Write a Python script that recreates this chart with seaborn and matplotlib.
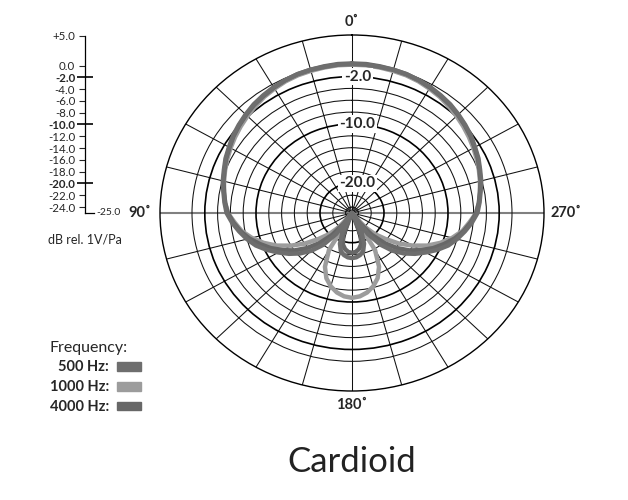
import numpy as np
import pandas as pd
import seaborn as sns
import matplotlib.pyplot as plt
from matplotlib.patches import Patch

# polar response, read from the left half of the chart (0 deg = front/top),
# the right half is the mirror image
angles = list(range(0, 181, 5))

db_500 = [0.1, 0.1, 0.0, 0.0, -0.1, -0.3, -0.5, -0.8, -1.1, -1.5,
          -1.9, -2.3, -2.8, -3.2, -3.7, -4.1, -4.6, -5.0, -5.4, -6.2,
          -7.1, -8.0, -9.0, -10.3, -11.7, -13.0, -14.4, -16.0, -18.0, -20.7,
          -25.0, -21.5, -19.5, -18.3, -17.8, -17.5, -17.4]

db_1000 = [0.0, 0.0, -0.1, -0.2, -0.3, -0.5, -0.8, -1.1, -1.5, -1.9,
           -2.3, -2.7, -3.1, -3.5, -3.9, -4.3, -4.7, -5.1, -5.6, -6.6,
           -7.5, -8.8, -10.3, -12.0, -14.0, -16.0, -18.2, -20.0, -22.0, -25.0,
           -17.8, -15.0, -13.3, -12.2, -11.4, -10.9, -10.7]

db_4000 = [0.2, 0.2, 0.1, 0.0, -0.1, -0.3, -0.6, -0.9, -1.2, -1.6,
           -2.0, -2.4, -2.9, -3.3, -3.8, -4.2, -4.7, -5.1, -5.6, -6.4,
           -7.3, -8.4, -9.7, -11.0, -12.5, -14.0, -15.8, -17.8, -20.2, -23.0,
           -25.0, -25.0, -21.0, -19.5, -18.8, -18.4, -18.3]

freqs = ["500 Hz", "1000 Hz", "4000 Hz"]
colors = {"500 Hz": "#6e6e6e", "1000 Hz": "#9c9c9c", "4000 Hz": "#676767"}

rings = list(range(-24, 1, 2))
bold_rings = [-2, -10, -20]
scale_ticks = [5] + list(range(0, -25, -2))
scale_labels = ["+5.0"] + ["%.1f" % v for v in range(0, -25, -2)]

sns.set_style("white")
plt.rcParams["font.family"] = ["Lato", "DejaVu Sans"]
plt.rcParams["axes.unicode_minus"] = False

# long table, left half + mirrored right half
rows = []
for f, vals in zip(freqs, [db_500, db_1000, db_4000]):
    full_ang = angles + [360 - a for a in angles[::-1][1:]]
    full_db = vals + vals[::-1][1:]
    for a, d in zip(full_ang, full_db):
        rows.append({"theta": np.deg2rad(a), "db": d, "freq": f})
df = pd.DataFrame(rows)

fig = plt.figure(figsize=(6.28, 5.0), dpi=100)
ax = fig.add_axes([160 / 628, 1 - 391 / 500, 384 / 628, 356 / 500], projection="polar")
ax.set_theta_zero_location("N")
ax.set_theta_direction(1)

sns.lineplot(data=df, x="theta", y="db", hue="freq",
             hue_order=["1000 Hz", "4000 Hz", "500 Hz"], palette=colors,
             sort=False, estimator=None, lw=3.2, legend=False, ax=ax)

ax.set_ylim(-25, 5)
ax.set_aspect("auto")
ax.set_xlabel("")
ax.set_ylabel("")
ax.set_yticks(rings)
ax.set_yticklabels([])
ax.set_xticks(np.deg2rad(np.arange(0, 360, 15)))
ax.set_xticklabels([])
ax.grid(True, color="#111111", lw=0.75)
for r, gl in zip(rings, ax.yaxis.get_gridlines()):
    if r in bold_rings:
        gl.set_linewidth(1.2)
        gl.set_color("black")
for i, gl in enumerate(ax.xaxis.get_gridlines()):
    if i in (6, 18):
        gl.set_color("#808080")
        gl.set_linewidth(1.5)
ax.spines["polar"].set_color("black")
ax.spines["polar"].set_linewidth(1.0)

for r in bold_rings:
    ax.annotate("%.1f" % r, xy=(0, r), xytext=(4, 0), textcoords="offset points",
                ha="center", va="center", fontsize=11, fontweight="bold",
                bbox=dict(boxstyle="square,pad=0.1", fc="white", ec="none"), zorder=5)

deg_lab = {"0˚": (0.5, 1.037), "180˚": (0.5, -0.038),
           "90˚": (-0.052, 0.5), "270˚": (1.058, 0.5)}
for t, (x, y) in deg_lab.items():
    ax.text(x, y, t, transform=ax.transAxes, ha="center", va="center",
            fontsize=10.5, fontweight="bold")

# dB scale on the left
sax = fig.add_axes([85 / 628, 1 - 213 / 500, 9 / 628, 177 / 500])
sax.set_ylim(-25, 5)
sax.set_xlim(0, 1)
sax.set_xticks([])
sax.set_yticks(scale_ticks)
sax.set_yticklabels(scale_labels)
sax.tick_params(axis="y", direction="out", length=4.5, width=0.8, pad=2.5,
                labelsize=8.3, left=True)
for s in ["top", "right"]:
    sax.spines[s].set_visible(False)
for s in ["left", "bottom"]:
    sax.spines[s].set_color("black")
    sax.spines[s].set_linewidth(0.9)
for v, tick, lab in zip(scale_ticks, sax.yaxis.get_major_ticks(), sax.get_yticklabels()):
    if v in bold_rings:
        tick.tick1line.set_marker("_")
        tick.tick1line.set_markersize(12)
        tick.tick1line.set_markeredgewidth(1.4)
        lab.set_fontweight("bold")
sax.annotate("-25.0", xy=(1, -25), xycoords=("axes fraction", "data"),
             xytext=(2, 0), textcoords="offset points", ha="left", va="center",
             fontsize=7.5)
sax.patch.set_alpha(0)

fig.text(48 / 628, 1 - 239 / 500, "dB rel. 1V/Pa", ha="left", va="center", fontsize=9)

handles = [Patch(color=colors[f]) for f in freqs]
fig.legend(handles, [f + ":" for f in freqs], title="Frequency:", loc="upper left",
           bbox_to_anchor=(0.058, 0.345), frameon=False, markerfirst=False,
           handlelength=1.65, handleheight=0.55, handletextpad=0.55, labelspacing=0.4,
           alignment="left", prop={"size": 10.5, "weight": "bold"}, title_fontsize=11.5)

fig.text(352 / 628, 1 - 462 / 500, "Cardioid", ha="center", va="center",
         fontsize=25, fontweight="normal", color="#222222")

fig.savefig("out.png", dpi=100)
